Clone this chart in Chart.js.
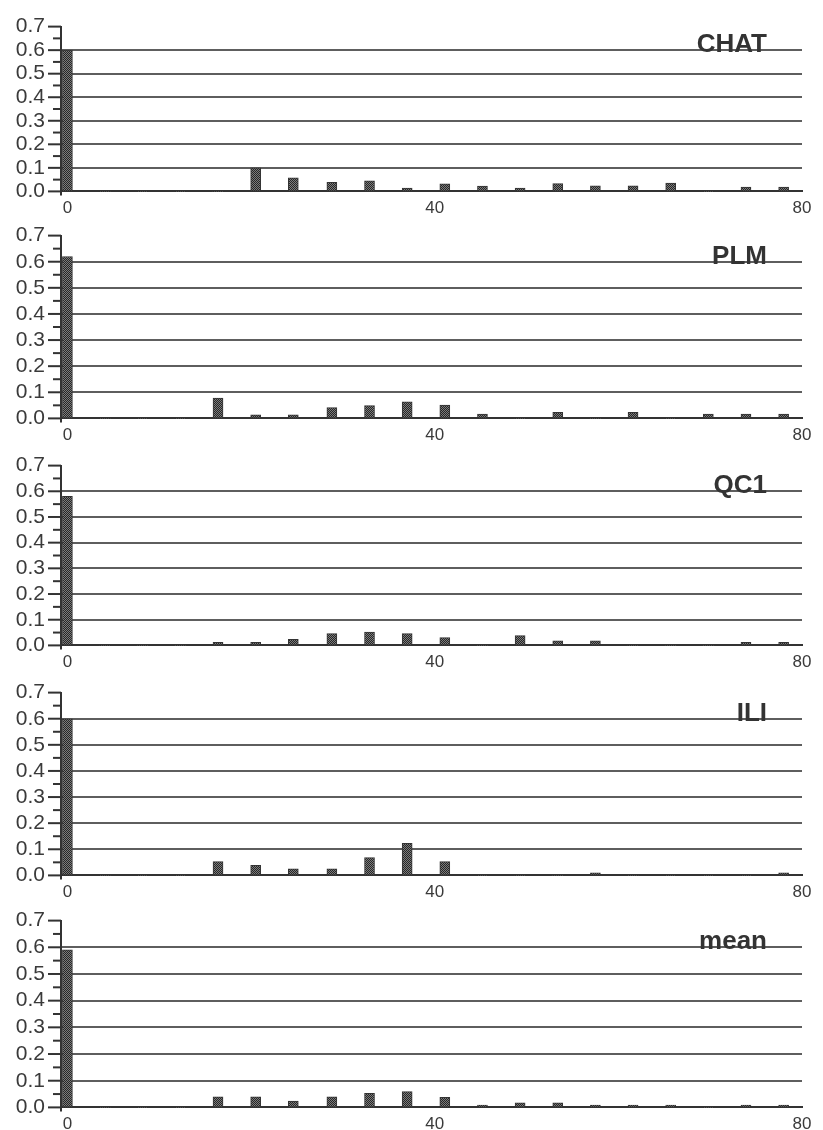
<!DOCTYPE html>
<html>
<head>
<meta charset="utf-8">
<title>Lag profiles</title>
<script src="https://cdn.jsdelivr.net/npm/chart.js@4.4.1/dist/chart.umd.min.js"></script>
<style>
  html, body { margin: 0; padding: 0; background: #fff; }
  body { width: 823px; height: 1130px; position: relative; overflow: hidden; }
  canvas { position: absolute; left: 0; }
</style>
</head>
<body>
<canvas id="c0"></canvas>
<canvas id="c1"></canvas>
<canvas id="c2"></canvas>
<canvas id="c3"></canvas>
<canvas id="c4"></canvas>
<script>
// Lag positions of the bars (x axis units)
const lags = [0, 4.1, 8.2, 12.3, 16.4, 20.5, 24.6, 28.8, 32.9, 37.0,
              41.1, 45.2, 49.3, 53.4, 57.5, 61.6, 65.7, 69.8, 73.9, 78.0];

// Axis tick labels
const xTicks = [0, 40, 80];
const yTicks = [0, 0.1, 0.2, 0.3, 0.4, 0.5, 0.6, 0.7];

// Panel names
const panelNames = ['CHAT', 'PLM', 'QC1', 'ILI', 'mean'];

// Values per lag, one list per panel
const chat = [0.60, 0, 0, 0, 0, 0.100, 0.058, 0.038, 0.045, 0.014,
              0.032, 0.023, 0.014, 0.033, 0.024, 0.024, 0.035, 0, 0.018, 0.018];
const plm  = [0.62, 0, 0, 0, 0.078, 0.014, 0.014, 0.041, 0.049, 0.063,
              0.051, 0.017, 0, 0.023, 0, 0.023, 0, 0.017, 0.017, 0.017];
const qc1  = [0.58, 0, 0, 0, 0.012, 0.012, 0.024, 0.046, 0.052, 0.046,
              0.030, 0, 0.038, 0.018, 0.018, 0, 0, 0, 0.012, 0.012];
const ili  = [0.60, 0, 0, 0, 0.053, 0.039, 0.025, 0.025, 0.068, 0.123,
              0.053, 0, 0, 0, 0.010, 0, 0, 0, 0, 0.010];
const mean = [0.59, 0, 0, 0, 0.040, 0.040, 0.024, 0.040, 0.053, 0.059,
              0.038, 0.009, 0.017, 0.017, 0.009, 0.009, 0.009, 0, 0.009, 0.009];

const panelValues = [chat, plm, qc1, ili, mean];

// Page layout: top (0.7) and bottom (0.0) of each plot area, in page pixels
const plotTop    = [10, 219, 448.5, 676, 904];
const plotBottom = [191.5, 419, 645.7, 876, 1107.7];
const PAD_TOP = 12;
const X_AXIS_H = 28;
const AXIS_LEFT = 61;
const PAD_RIGHT = 21;

const FONT = '"Liberation Sans", Arial, Helvetica, sans-serif';
const INK = '#333';

// Halftone-like fill for the bars
function makeBarPattern() {
  const c = document.createElement('canvas');
  c.width = 2; c.height = 2;
  const g = c.getContext('2d');
  g.fillStyle = '#7c7c7c'; g.fillRect(0, 0, 2, 2);
  g.fillStyle = '#262626'; g.fillRect(0, 0, 1, 1); g.fillRect(1, 1, 1, 1);
  return g.createPattern(c, 'repeat');
}
const barFill = makeBarPattern();

// Left-axis tick marks (major at labels, minor halfway) and the panel name
const axisMarks = {
  id: 'axisMarks',
  afterDraw(chart, args, opts) {
    const { ctx, chartArea: a, scales: { y } } = chart;
    ctx.save();
    ctx.strokeStyle = INK;
    ctx.lineWidth = 2;
    for (let i = 0; i < yTicks.length; i++) {
      const py = y.getPixelForValue(yTicks[i]);
      ctx.beginPath(); ctx.moveTo(a.left - 13, py); ctx.lineTo(a.left, py); ctx.stroke();
      if (i < yTicks.length - 1) {
        const pm = y.getPixelForValue((yTicks[i] + yTicks[i + 1]) / 2);
        ctx.beginPath(); ctx.moveTo(a.left - 8, pm); ctx.lineTo(a.left, pm); ctx.stroke();
      }
    }
    // short stub of the y axis below the baseline
    ctx.beginPath(); ctx.moveTo(a.left, a.bottom); ctx.lineTo(a.left, a.bottom + 4); ctx.stroke();

    ctx.font = 'bold 26px ' + FONT;
    ctx.fillStyle = INK;
    ctx.textAlign = 'right';
    ctx.textBaseline = 'alphabetic';
    ctx.fillText(opts.text, a.right - 35, y.getPixelForValue(0.6) + 2);
    ctx.restore();
  }
};

panelNames.forEach((name, p) => {
  const canvas = document.getElementById('c' + p);
  const h = PAD_TOP + (plotBottom[p] - plotTop[p]) + X_AXIS_H;
  canvas.width = 823;
  canvas.height = Math.round(h);
  canvas.style.top = (plotTop[p] - PAD_TOP) + 'px';

  const values = panelValues[p];
  new Chart(canvas, {
    type: 'bar',
    data: {
      datasets: [{
        label: name,
        data: lags.map((x, i) => ({ x: x, y: values[i] })),
        backgroundColor: barFill,
        borderColor: INK,
        borderWidth: ctx => (ctx.raw && ctx.raw.y > 0 ? 1 : 0),
        barThickness: 10
      }]
    },
    options: {
      responsive: false,
      maintainAspectRatio: false,
      animation: false,
      events: [],
      layout: { padding: { top: PAD_TOP, right: PAD_RIGHT, left: 0, bottom: 0 } },
      plugins: {
        legend: { display: false },
        tooltip: { enabled: false },
        axisMarks: { text: name }
      },
      scales: {
        x: {
          type: 'linear',
          offset: false,
          min: -0.7,
          max: 80,
          afterBuildTicks: s => { s.ticks = xTicks.map(v => ({ value: v })); },
          afterFit: s => { s.height = X_AXIS_H; },
          ticks: {
            autoSkip: false, maxRotation: 0, padding: 7,
            color: '#3a3a3a',
            font: { family: FONT, size: 17 }
          },
          grid: { display: false, drawTicks: false, offset: false },
          border: { display: true, color: INK, width: 2 }
        },
        y: {
          min: 0,
          max: 0.7,
          afterBuildTicks: s => { s.ticks = yTicks.map(v => ({ value: v })); },
          afterFit: s => { s.width = AXIS_LEFT; },
          ticks: {
            autoSkip: false,
            padding: 16,
            color: '#3a3a3a',
            font: { family: FONT, size: 21 },
            callback: v => Number(v).toFixed(1)
          },
          grid: {
            drawTicks: false,
            lineWidth: 2,
            color: ctx => {
              const v = ctx.tick ? ctx.tick.value : 0;
              return (v > 0.001 && v < 0.69) ? '#5e5e5e' : 'rgba(0,0,0,0)';
            }
          },
          border: { display: true, color: INK, width: 2 }
        }
      }
    },
    plugins: [axisMarks]
  });
});
</script>
</body>
</html>
